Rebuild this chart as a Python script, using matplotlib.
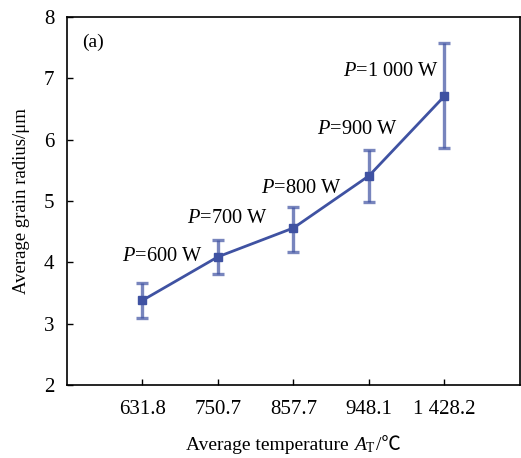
#!/usr/bin/env python3
"""Average grain radius vs average temperature, with error bars."""

import matplotlib

matplotlib.use("Agg")
import matplotlib.pyplot as plt
from matplotlib.offsetbox import AnchoredOffsetbox, HPacker, TextArea

plt.rcParams["font.family"] = ["Liberation Serif", "DejaVu Serif"]
plt.rcParams["mathtext.fontset"] = "custom"
plt.rcParams["mathtext.rm"] = "Liberation Serif"
plt.rcParams["mathtext.it"] = "Liberation Serif:italic"

temps = ["631.8", "750.7", "857.7", "948.1", "1 428.2"]
radius = [3.38, 4.09, 4.56, 5.41, 6.71]
err_low = [3.10, 3.81, 4.17, 4.99, 5.86]
err_high = [3.67, 4.37, 4.90, 5.83, 7.57]
powers = ["600", "700", "800", "900", "1 000"]
label_x = [1.27, 2.12, 3.11, 3.85, 4.29]
label_y = [4.09, 4.72, 5.20, 6.16, 7.11]

COLOR = "#3f52a2"

fig = plt.figure(figsize=(5.21, 4.58), dpi=100)
ax = fig.add_axes([0.1286, 0.1594, 0.8694, 0.8036])

xs = list(range(1, len(temps) + 1))
yerr = [
    [r - lo for r, lo in zip(radius, err_low)],
    [hi - r for r, hi in zip(radius, err_high)],
]
ax.errorbar(xs, radius, yerr=yerr, fmt="none", ecolor=COLOR, alpha=0.7,
            elinewidth=2.4, capsize=4, capthick=2.4, zorder=2)
ax.plot(xs, radius, color=COLOR, linewidth=2.0, marker="s", markersize=6,
        zorder=3)

for x, y, p in zip(label_x, label_y, powers):
    ax.text(x, y, r"$P$=" + p + " W", ha="center", va="center", fontsize=14.7)

ax.text(0.2, 7.58, "(a)", ha="left", va="center", fontsize=14)

ax.set_xlim(0, 6)
ax.set_ylim(2, 8)
ax.set_xticks(xs)
ax.set_xticklabels(temps)
ax.set_yticks(range(2, 9))
ax.tick_params(direction="in", labelsize=15, length=4, width=1.0, pad=9)
ax.tick_params(axis="x", pad=11)
for s in ax.spines.values():
    s.set_linewidth(1.2)

ax.set_ylabel("Average grain radius/μm", fontsize=13.5, labelpad=10)

# x label built from pieces so the ℃ sign can come from a CJK font
parts = [
    TextArea("Average temperature ", textprops=dict(fontsize=14)),
    TextArea(r"$A_\mathrm{T}$", textprops=dict(fontsize=14)),
    TextArea("/℃", textprops=dict(fontsize=14,
                                  family=["Liberation Serif", "Noto Sans CJK SC"])),
]
xlabel = HPacker(children=parts, align="baseline", pad=0, sep=0)
fig.add_artist(AnchoredOffsetbox(loc="center", child=xlabel, frameon=False,
                                 pad=0, borderpad=0,
                                 bbox_to_anchor=(0.563, 0.028),
                                 bbox_transform=fig.transFigure))

fig.savefig("out.png", dpi=100)
